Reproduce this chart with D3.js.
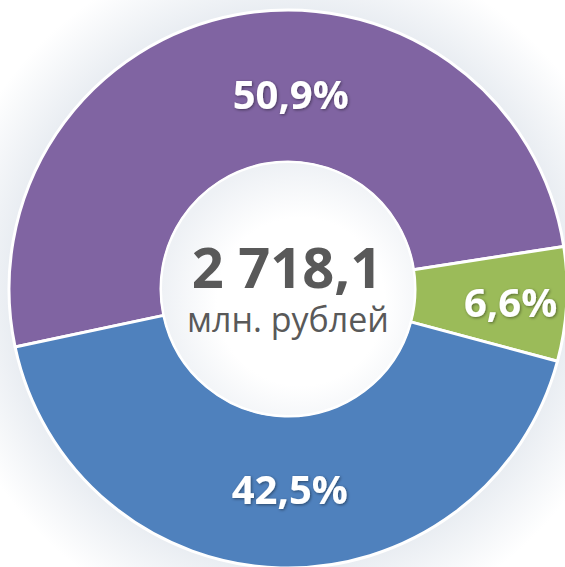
<!DOCTYPE html>
<html>
<head>
<meta charset="utf-8">
<script src="https://cdn.jsdelivr.net/npm/d3@7"></script>
<style>
  html, body { margin: 0; padding: 0; background: #fff; }
  svg { display: block; }
</style>
</head>
<body>
<svg id="chart" width="565" height="567"></svg>
<script>
const categories = ['A', 'B', 'C']
const shares = [50.9, 6.6, 42.5]
const shareLabels = ['50,9%', '6,6%', '42,5%']
const colors = ['#8064a2', '#9bbb59', '#4f81bd']
const totalValue = '2 718,1'
const totalUnit = 'млн. рублей'

const width = 565
const height = 567
const cx = 288
const cy = 289
const outerR = 279
const innerR = 127

// label placement: angle in degrees clockwise from 12 o'clock, and radius
const labelAngle = [0.8, 93.5, 179.5]
const labelR = [194, 223, 201]

const svg = d3.select('#chart')
const defs = svg.append('defs')

const halo = defs.append('radialGradient').attr('id', 'halo')
  .attr('gradientUnits', 'userSpaceOnUse')
  .attr('cx', cx).attr('cy', cy).attr('r', outerR + 70)
halo.append('stop').attr('offset', outerR / (outerR + 70)).attr('stop-color', '#e9edf2')
halo.append('stop').attr('offset', 1).attr('stop-color', '#ffffff')

const hole = defs.append('radialGradient').attr('id', 'hole')
  .attr('cx', 0.55).attr('cy', 0.55).attr('r', 0.55)
hole.append('stop').attr('offset', 0.6).attr('stop-color', '#ffffff')
hole.append('stop').attr('offset', 1).attr('stop-color', '#eef1f5')

const shadow = defs.append('filter').attr('id', 'tshadow')
  .attr('x', '-20%').attr('y', '-20%').attr('width', '140%').attr('height', '140%')
shadow.append('feDropShadow')
  .attr('dx', 1).attr('dy', 1).attr('stdDeviation', 1.5)
  .attr('flood-color', '#000').attr('flood-opacity', 0.45)

svg.append('rect').attr('width', width).attr('height', height).attr('fill', '#fff')
svg.append('circle').attr('cx', cx).attr('cy', cy).attr('r', outerR + 70).attr('fill', 'url(#halo)')

const g = svg.append('g').attr('transform', `translate(${cx},${cy})`)

const pie = d3.pie().sort(null).value(d => d)
  .startAngle(-102 * Math.PI / 180)
  .endAngle((360 - 102) * Math.PI / 180)
const arcs = pie(shares)

const arc = d3.arc().innerRadius(innerR).outerRadius(outerR)

g.selectAll('path.slice')
  .data(arcs)
  .enter()
  .append('path')
  .attr('class', 'slice')
  .attr('d', arc)
  .attr('fill', (d, i) => colors[i])
  .attr('stroke', '#fff')
  .attr('stroke-width', 3)
  .attr('stroke-linejoin', 'round')

g.append('circle')
  .attr('r', innerR)
  .attr('fill', 'url(#hole)')
  .attr('stroke', '#fff')
  .attr('stroke-width', 2)

g.selectAll('text.pct')
  .data(arcs)
  .enter()
  .append('text')
  .attr('class', 'pct')
  .attr('x', (d, i) => labelR[i] * Math.sin(labelAngle[i] * Math.PI / 180))
  .attr('y', (d, i) => -labelR[i] * Math.cos(labelAngle[i] * Math.PI / 180))
  .attr('dy', '0.36em')
  .attr('text-anchor', 'middle')
  .attr('font-family', '"Open Sans", sans-serif')
  .attr('font-weight', 700)
  .attr('font-size', 40)
  .attr('fill', '#fff')
  .attr('filter', 'url(#tshadow)')
  .text((d, i) => shareLabels[i])

g.append('text')
  .attr('x', -1).attr('y', -1)
  .attr('text-anchor', 'middle')
  .attr('font-family', '"Open Sans", sans-serif')
  .attr('font-weight', 700)
  .attr('font-size', 56)
  .attr('fill', '#595959')
  .text(totalValue)

g.append('text')
  .attr('x', 0).attr('y', 43)
  .attr('text-anchor', 'middle')
  .attr('font-family', '"Open Sans", sans-serif')
  .attr('font-size', 34)
  .attr('fill', '#595959')
  .text(totalUnit)
</script>
</body>
</html>
